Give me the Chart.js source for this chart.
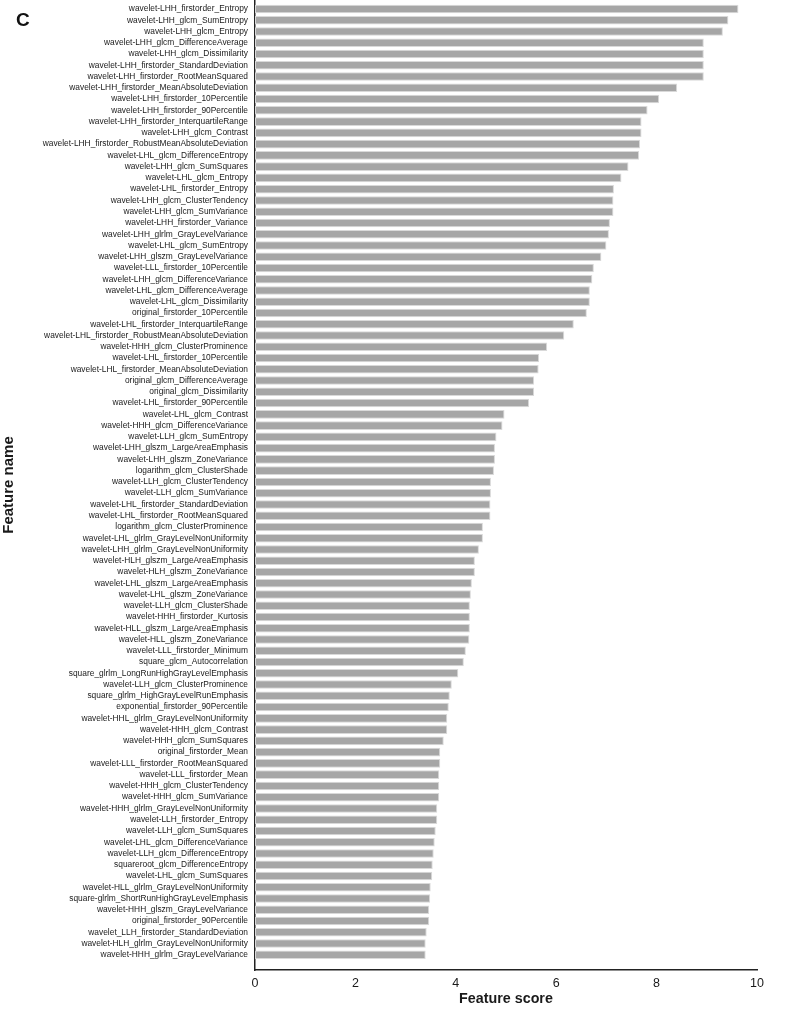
<!DOCTYPE html>
<html>
<head>
<meta charset="utf-8">
<script src="https://cdn.jsdelivr.net/npm/chart.js@4/dist/chart.umd.min.js"></script>
<style>
  html, body { margin: 0; padding: 0; background: #fff; }
  #wrap { position: relative; width: 788px; height: 1012px; }
  #panel-letter {
    position: absolute; left: 16px; top: 10px;
    font: bold 19px "Liberation Sans", Arial, sans-serif; line-height: 19px; color: #111;
  }
</style>
</head>
<body>
<div id="wrap">
  <canvas id="score-chart" width="788" height="1012"></canvas>
  <div id="panel-letter">C</div>
</div>
<script>
// features, top to bottom
const featureNames = [
  'wavelet-LHH_firstorder_Entropy',
  'wavelet-LHH_glcm_SumEntropy',
  'wavelet-LHH_glcm_Entropy',
  'wavelet-LHH_glcm_DifferenceAverage',
  'wavelet-LHH_glcm_Dissimilarity',
  'wavelet-LHH_firstorder_StandardDeviation',
  'wavelet-LHH_firstorder_RootMeanSquared',
  'wavelet-LHH_firstorder_MeanAbsoluteDeviation',
  'wavelet-LHH_firstorder_10Percentile',
  'wavelet-LHH_firstorder_90Percentile',
  'wavelet-LHH_firstorder_InterquartileRange',
  'wavelet-LHH_glcm_Contrast',
  'wavelet-LHH_firstorder_RobustMeanAbsoluteDeviation',
  'wavelet-LHL_glcm_DifferenceEntropy',
  'wavelet-LHH_glcm_SumSquares',
  'wavelet-LHL_glcm_Entropy',
  'wavelet-LHL_firstorder_Entropy',
  'wavelet-LHH_glcm_ClusterTendency',
  'wavelet-LHH_glcm_SumVariance',
  'wavelet-LHH_firstorder_Variance',
  'wavelet-LHH_glrlm_GrayLevelVariance',
  'wavelet-LHL_glcm_SumEntropy',
  'wavelet-LHH_glszm_GrayLevelVariance',
  'wavelet-LLL_firstorder_10Percentile',
  'wavelet-LHH_glcm_DifferenceVariance',
  'wavelet-LHL_glcm_DifferenceAverage',
  'wavelet-LHL_glcm_Dissimilarity',
  'original_firstorder_10Percentile',
  'wavelet-LHL_firstorder_InterquartileRange',
  'wavelet-LHL_firstorder_RobustMeanAbsoluteDeviation',
  'wavelet-HHH_glcm_ClusterProminence',
  'wavelet-LHL_firstorder_10Percentile',
  'wavelet-LHL_firstorder_MeanAbsoluteDeviation',
  'original_glcm_DifferenceAverage',
  'original_glcm_Dissimilarity',
  'wavelet-LHL_firstorder_90Percentile',
  'wavelet-LHL_glcm_Contrast',
  'wavelet-HHH_glcm_DifferenceVariance',
  'wavelet-LLH_glcm_SumEntropy',
  'wavelet-LHH_glszm_LargeAreaEmphasis',
  'wavelet-LHH_glszm_ZoneVariance',
  'logarithm_glcm_ClusterShade',
  'wavelet-LLH_glcm_ClusterTendency',
  'wavelet-LLH_glcm_SumVariance',
  'wavelet-LHL_firstorder_StandardDeviation',
  'wavelet-LHL_firstorder_RootMeanSquared',
  'logarithm_glcm_ClusterProminence',
  'wavelet-LHL_glrlm_GrayLevelNonUniformity',
  'wavelet-LHH_glrlm_GrayLevelNonUniformity',
  'wavelet-HLH_glszm_LargeAreaEmphasis',
  'wavelet-HLH_glszm_ZoneVariance',
  'wavelet-LHL_glszm_LargeAreaEmphasis',
  'wavelet-LHL_glszm_ZoneVariance',
  'wavelet-LLH_glcm_ClusterShade',
  'wavelet-HHH_firstorder_Kurtosis',
  'wavelet-HLL_glszm_LargeAreaEmphasis',
  'wavelet-HLL_glszm_ZoneVariance',
  'wavelet-LLL_firstorder_Minimum',
  'square_glcm_Autocorrelation',
  'square_glrlm_LongRunHighGrayLevelEmphasis',
  'wavelet-LLH_glcm_ClusterProminence',
  'square_glrlm_HighGrayLevelRunEmphasis',
  'exponential_firstorder_90Percentile',
  'wavelet-HHL_glrlm_GrayLevelNonUniformity',
  'wavelet-HHH_glcm_Contrast',
  'wavelet-HHH_glcm_SumSquares',
  'original_firstorder_Mean',
  'wavelet-LLL_firstorder_RootMeanSquared',
  'wavelet-LLL_firstorder_Mean',
  'wavelet-HHH_glcm_ClusterTendency',
  'wavelet-HHH_glcm_SumVariance',
  'wavelet-HHH_glrlm_GrayLevelNonUniformity',
  'wavelet-LLH_firstorder_Entropy',
  'wavelet-LLH_glcm_SumSquares',
  'wavelet-LHL_glcm_DifferenceVariance',
  'wavelet-LLH_glcm_DifferenceEntropy',
  'squareroot_glcm_DifferenceEntropy',
  'wavelet-LHL_glcm_SumSquares',
  'wavelet-HLL_glrlm_GrayLevelNonUniformity',
  'square-glrlm_ShortRunHighGrayLevelEmphasis',
  'wavelet-HHH_glszm_GrayLevelVariance',
  'original_firstorder_90Percentile',
  'wavelet_LLH_firstorder_StandardDeviation',
  'wavelet-HLH_glrlm_GrayLevelNonUniformity',
  'wavelet-HHH_glrlm_GrayLevelVariance'
];

// scores, same order
const featureScores = [
  9.63, 9.43, 9.32, 8.94, 8.94, 8.94, 8.94, 8.41, 8.05, 7.82,
  7.70, 7.70, 7.67, 7.65, 7.44, 7.30, 7.15, 7.14, 7.14, 7.07,
  7.05, 7.00, 6.90, 6.75, 6.72, 6.67, 6.67, 6.61, 6.35, 6.16,
  5.82, 5.66, 5.65, 5.56, 5.56, 5.46, 4.97, 4.93, 4.81, 4.78,
  4.78, 4.76, 4.70, 4.70, 4.69, 4.69, 4.54, 4.54, 4.46, 4.38,
  4.38, 4.32, 4.30, 4.28, 4.28, 4.28, 4.27, 4.20, 4.16, 4.05,
  3.92, 3.88, 3.86, 3.83, 3.83, 3.76, 3.69, 3.69, 3.67, 3.67,
  3.67, 3.63, 3.63, 3.60, 3.58, 3.56, 3.54, 3.53, 3.50, 3.49,
  3.47, 3.47, 3.42, 3.40, 3.40
];

const scoreTicks = [0, 2, 4, 6, 8, 10];

const FONT = '"Liberation Sans", Arial, sans-serif';
const INK = '#1a1a1a';

function renderChart() {
  const ctx = document.getElementById('score-chart').getContext('2d');
  new Chart(ctx, {
    type: 'bar',
    data: {
      labels: featureNames,
      datasets: [{
        label: 'Feature score',
        data: featureScores,
        backgroundColor: '#a6a6a6',
        borderColor: '#d9d9d9',
        borderWidth: 1,
        borderSkipped: false,
        categoryPercentage: 1,
        barPercentage: 0.76
      }]
    },
    options: {
      indexAxis: 'y',
      responsive: false,
      animation: false,
      layout: { padding: { top: 0, right: 31, bottom: 0, left: 0 } },
      plugins: { legend: { display: false }, tooltip: { enabled: false } },
      scales: {
        x: {
          min: 0,
          max: 10,
          afterBuildTicks: axis => { axis.ticks = scoreTicks.map(v => ({ value: v })); },
          grid: { display: false, drawTicks: false },
          border: { display: true, color: '#222', width: 1.5 },
          ticks: { color: INK, font: { family: FONT, size: 12.5 }, padding: 6 },
          title: {
            display: true,
            text: 'Feature score',
            color: INK,
            font: { family: FONT, size: 14.3, weight: 'bold' },
            padding: { top: 0, bottom: 4.5 }
          },
          afterFit: axis => { axis.height = 42; }
        },
        y: {
          grid: { display: false, drawTicks: false },
          border: { display: true, color: '#222', width: 1.5 },
          ticks: { color: INK, autoSkip: false, font: { family: FONT, size: 8.4 }, padding: 7 },
          title: {
            display: true,
            text: 'Feature name',
            color: INK,
            font: { family: FONT, size: 15, weight: 'bold' },
            padding: { top: 0, bottom: 0 }
          },
          // first row sits a bit closer to the top than the last row to the axis
          afterBuildTicks: axis => {
            axis._startValue = -0.8;
            axis._valueRange = featureNames.length + 1.15;
          },
          afterFit: axis => {
            axis.width = 255;
            axis.paddingTop = 0;
            axis.paddingBottom = 0;
          }
        }
      }
    }
  });
}

document.addEventListener('DOMContentLoaded', renderChart);
</script>
</body>
</html>
